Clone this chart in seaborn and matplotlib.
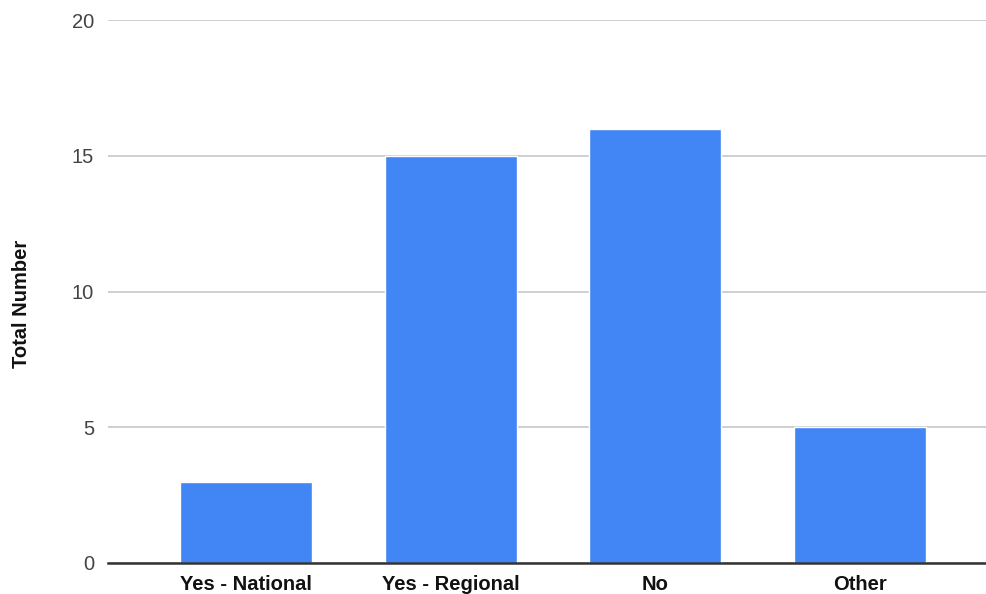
import matplotlib
matplotlib.use("Agg")
import matplotlib.pyplot as plt
import seaborn as sns
import pandas as pd

categories = ["Yes - National", "Yes - Regional", "No", "Other"]
totals = [3, 15, 16, 5]
y_ticks = [0, 5, 10, 15, 20]

df = pd.DataFrame({"category": categories, "total": totals})

sns.set_theme(style="white")
plt.rcParams["font.family"] = ["Liberation Sans", "DejaVu Sans"]

fig = plt.figure(figsize=(9.87, 5.94), dpi=100)
ax = fig.add_axes([108 / 987, 31 / 594, 1 - 108 / 987, 543 / 594])

sns.barplot(data=df, x="category", y="total", color="#4285F4", saturation=1,
            width=0.645, ax=ax, zorder=3)

ax.set_xlim(-0.675, 3.623)
ax.set_ylim(0, 20)
ax.set_yticks(y_ticks)
ax.yaxis.grid(True, color="#cccccc", linewidth=1.3, zorder=0)
ax.set_axisbelow(True)

for side in ["top", "right", "left"]:
    ax.spines[side].set_visible(False)
ax.spines["bottom"].set_color("#333333")
ax.spines["bottom"].set_linewidth(1.8)
ax.spines["bottom"].set_zorder(4)

ax.tick_params(axis="y", length=0, pad=10, labelsize=14.5, labelcolor="#444444")
ax.tick_params(axis="x", length=0, pad=9, labelsize=14.5, labelcolor="#111111")
for lbl in ax.get_xticklabels():
    lbl.set_fontweight("bold")

ax.set_xlabel("")
ax.set_ylabel("Total Number", fontsize=14.5, fontweight="bold", color="#111111")
ax.yaxis.set_label_coords(-0.088, 0.477)

fig.savefig("out.png", dpi=100, facecolor="white")
